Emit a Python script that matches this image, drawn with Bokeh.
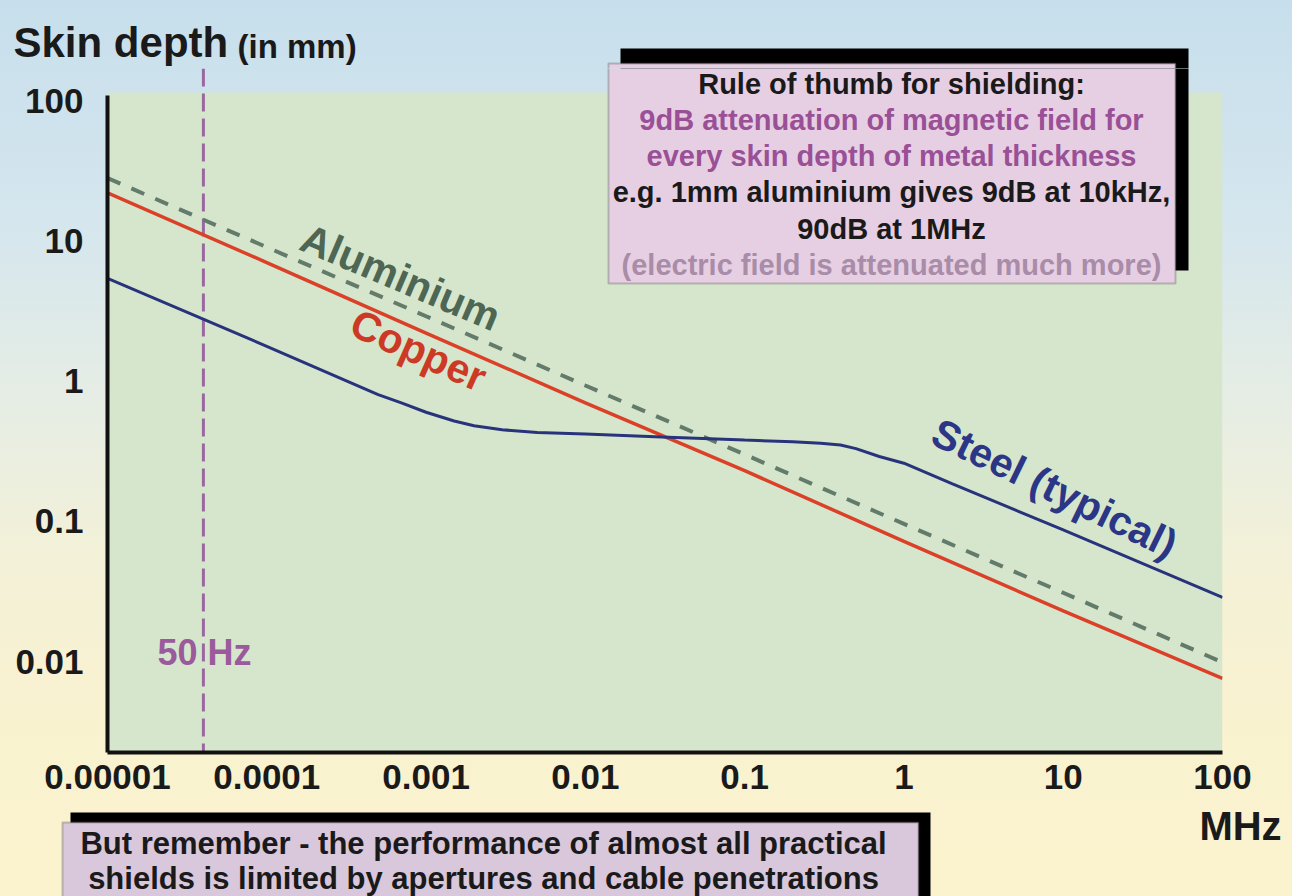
from math import log10

from bokeh.plotting import figure
from bokeh.layouts import column
from bokeh.models import FixedTicker, Span, Label, BoxAnnotation, Range1d
from bokeh.embed import file_html
from bokeh.resources import INLINE

# ---------------- data ----------------
freq_ticks = [1e-5, 1e-4, 1e-3, 1e-2, 1e-1, 1, 10, 100]
freq_tick_labels = ["0.00001", "0.0001", "0.001", "0.01", "0.1", "1", "10", "100"]
depth_ticks = [0.01, 0.1, 1, 10, 100]
depth_tick_labels = ["0.01", "0.1", "1", "10", "100"]

copper_freq = [1e-5, 1e-4, 1e-3, 1e-2, 1e-1, 1, 10, 100]
copper_depth = [22.0, 7.0, 2.2, 0.70, 0.23, 0.072, 0.023, 0.0076]

aluminium_freq = [1e-5, 1e-4, 1e-3, 1e-2, 1e-1, 1, 10, 100]
aluminium_depth = [28.0, 9.0, 2.9, 0.93, 0.30, 0.096, 0.031, 0.0099]

steel_freq = [1e-5, 1e-4, 5e-4, 7e-4, 1e-3, 1.5e-3, 2e-3, 3e-3, 5e-3, 0.01, 0.03,
              0.1, 0.2, 0.3, 0.4, 0.5, 0.7, 1, 1.5, 2, 10, 100]
steel_depth = [5.4, 1.77, 0.80, 0.70, 0.60, 0.52, 0.48, 0.45, 0.43, 0.42, 0.40,
               0.38, 0.37, 0.36, 0.35, 0.33, 0.29, 0.26, 0.214, 0.186, 0.087, 0.0287]

mains_marker_mhz = 4e-5      # the "50Hz" marker, where it is drawn

box_lines = [
    ("Rule of thumb for shielding:", "#1a1a1a"),
    ("9dB attenuation of magnetic field for", "#9a5096"),
    ("every skin depth of metal thickness", "#9a5096"),
    ("e.g. 1mm aluminium gives 9dB at 10kHz,", "#1a1a1a"),
    ("90dB at 1MHz", "#1a1a1a"),
    ("(electric field is attenuated much more)", "#a88ca8"),
]
note_lines = [
    "But remember - the performance of almost all practical",
    "shields is limited by apertures and cable penetrations",
]

# ---------------- layout (page pixel geometry) ----------------
W, H = 1292, 896
HEAD_B = 68        # header strip: 0..68
FOOT_T = 800       # footer strip: 800..896
FRAME_L, FRAME_R, FRAME_B = 107, 1222, 752
FRAME_T = HEAD_B
PX_PER_DECADE_Y = 140.3
Y100_PX = 100
X_START, X_END = 1e-5, 100
Y_END = 10 ** (2 + (Y100_PX - FRAME_T) / PX_PER_DECADE_Y)
Y_START = 10 ** (2 - (FRAME_B - Y100_PX) / PX_PER_DECADE_Y)

GRAD = ("linear-gradient(to bottom, #c7dfec 0%, #d5e6ee 25%, #e6ede4 45%, "
        "#f3f1d8 62%, #f9f2d0 80%, #fbf3cd 100%)")


def bg(offset):
    return {"background": f"{GRAD} 0px {-offset}px / {W}px {H}px no-repeat"}


def fx(px):
    t = (px - FRAME_L) / (FRAME_R - FRAME_L)
    return 10 ** (log10(X_START) + t * (log10(X_END) - log10(X_START)))


def fy(py):
    t = (py - FRAME_T) / (FRAME_B - FRAME_T)
    return 10 ** (log10(Y_END) - t * (log10(Y_END) - log10(Y_START)))


def ident(v):
    return v


def no_align(fig):
    try:
        fig.frame_align = False
    except AttributeError:
        pass


FONT = "Liberation Sans"

# boxes, in page pixels: (left, right, top, bottom, fill, border)
RULE_SHADOW = (620, 1188, 48, 270, "#000000", None)
RULE_BOX = (608, 1175, 63, 283, "#e7cfe3", "#4a4a4a")
NOTE_SHADOW = (70, 930, 812, 900, "#000000", None)
NOTE_BOX = (62, 918, 822, 905, "#d9c7dc", "#4a4a4a")


def add_box(fig, box, mx, my):
    l, r, t, b, fill, border = box
    fig.add_layout(BoxAnnotation(left=mx(l), right=mx(r), top=my(t), bottom=my(b),
                                 fill_color=fill, fill_alpha=1,
                                 line_color=border, line_width=2 if border else 0,
                                 level="overlay"))


def add_text(fig, text, px, py, size, color, mx, my, angle=0, align="center",
             baseline="middle"):
    fig.add_layout(Label(x=mx(px), y=my(py), text=text, angle=angle, angle_units="deg",
                         text_align=align, text_baseline=baseline,
                         text_font=FONT, text_font_style="bold",
                         text_font_size=size, text_color=color, level="overlay"))


def strip(height, top):
    f = figure(width=W, height=height, x_range=Range1d(0, W), y_range=Range1d(top + height, top),
               x_axis_location=None, y_axis_location=None,
               output_backend="svg", toolbar_location=None,
               min_border=0, min_border_left=0, min_border_right=0,
               min_border_top=0, min_border_bottom=0)
    no_align(f)
    f.grid.visible = False
    f.outline_line_color = None
    f.border_fill_color = None
    f.background_fill_color = None
    f.styles = bg(top)
    return f


# ---------------- header ----------------
head = strip(HEAD_B, 0)
add_text(head, "Skin depth", 13, 42, "42px", "#1a1a1a", ident, ident, align="left")
add_text(head, "(in mm)", 237, 46, "33px", "#1a1a1a", ident, ident, align="left")
add_box(head, RULE_SHADOW, ident, ident)
add_box(head, RULE_BOX, ident, ident)

# ---------------- main chart ----------------
p = figure(
    width=W, height=FOOT_T - HEAD_B,
    x_axis_type="log", y_axis_type="log",
    x_range=(X_START, X_END), y_range=(Y_START, Y_END),
    output_backend="svg", toolbar_location=None,
    min_border_left=FRAME_L, min_border_right=W - FRAME_R,
    min_border_top=0, min_border_bottom=FOOT_T - FRAME_B,
)
no_align(p)
p.styles = bg(HEAD_B)
p.border_fill_color = None
p.background_fill_color = None
p.outline_line_color = None
p.grid.visible = False

# plot-area tint (starts a little below the frame top, as in the picture)
p.add_layout(BoxAnnotation(top=fy(92), fill_color="#d6e6cc", fill_alpha=1,
                           line_color=None, level="underlay"))

for ax in (p.xaxis[0], p.yaxis[0]):
    ax.axis_line_width = 4
    ax.axis_line_color = "#111111"
    ax.major_tick_line_color = None
    ax.minor_tick_line_color = None
    ax.major_label_text_font = FONT
    ax.major_label_text_font_style = "bold"
    ax.major_label_text_font_size = "35px"
    ax.major_label_text_color = "#1a1a1a"

p.xaxis.ticker = FixedTicker(ticks=freq_ticks)
p.xaxis.major_label_overrides = dict(zip(freq_ticks, freq_tick_labels))
p.xaxis.major_label_standoff = 6
p.yaxis.ticker = FixedTicker(ticks=depth_ticks)
p.yaxis.major_label_overrides = dict(zip(depth_ticks, depth_tick_labels))
p.yaxis.major_label_standoff = 18
p.yaxis.bounds = (Y_START, fy(95))

# 50 Hz marker
p.add_layout(Span(location=mains_marker_mhz, dimension="height", line_color="#9a68a0",
                  line_width=3, line_dash="18 7", level="underlay"))

# curves
p.line(aluminium_freq, aluminium_depth, line_color="#637b6a", line_width=4, line_dash="14 12")
p.line(copper_freq, copper_depth, line_color="#da4128", line_width=3.5)
p.line(steel_freq, steel_depth, line_color="#28337c", line_width=3)

add_text(p, "Aluminium", 400, 277, "41px", "#4e6654", fx, fy, angle=-23)
add_text(p, "Copper", 418, 350, "41px", "#cc3a26", fx, fy, angle=-24)
add_text(p, "Steel (typical)", 1054, 488, "41px", "#2b3786", fx, fy, angle=-26)
add_text(p, "50 Hz", 204, 652, "36px", "#9a5a9c", fx, fy)

add_box(p, RULE_SHADOW, fx, fy)
add_box(p, RULE_BOX, fx, fy)
for i, (txt, col) in enumerate(box_lines):
    add_text(p, txt, 891, 83 + 36.3 * i, "29px", col, fx, fy)

# ---------------- footer ----------------
foot = strip(H - FOOT_T, FOOT_T)
add_box(foot, NOTE_SHADOW, ident, ident)
add_box(foot, NOTE_BOX, ident, ident)
for i, txt in enumerate(note_lines):
    add_text(foot, txt, 483, 843 + 35 * i, "31px", "#1a1a1a", ident, ident)
add_text(foot, "MHz", 1240, 825, "40px", "#1a1a1a", ident, ident)

layout = column(head, p, foot, spacing=0)
open("out.html", "w").write(file_html(layout, INLINE))
